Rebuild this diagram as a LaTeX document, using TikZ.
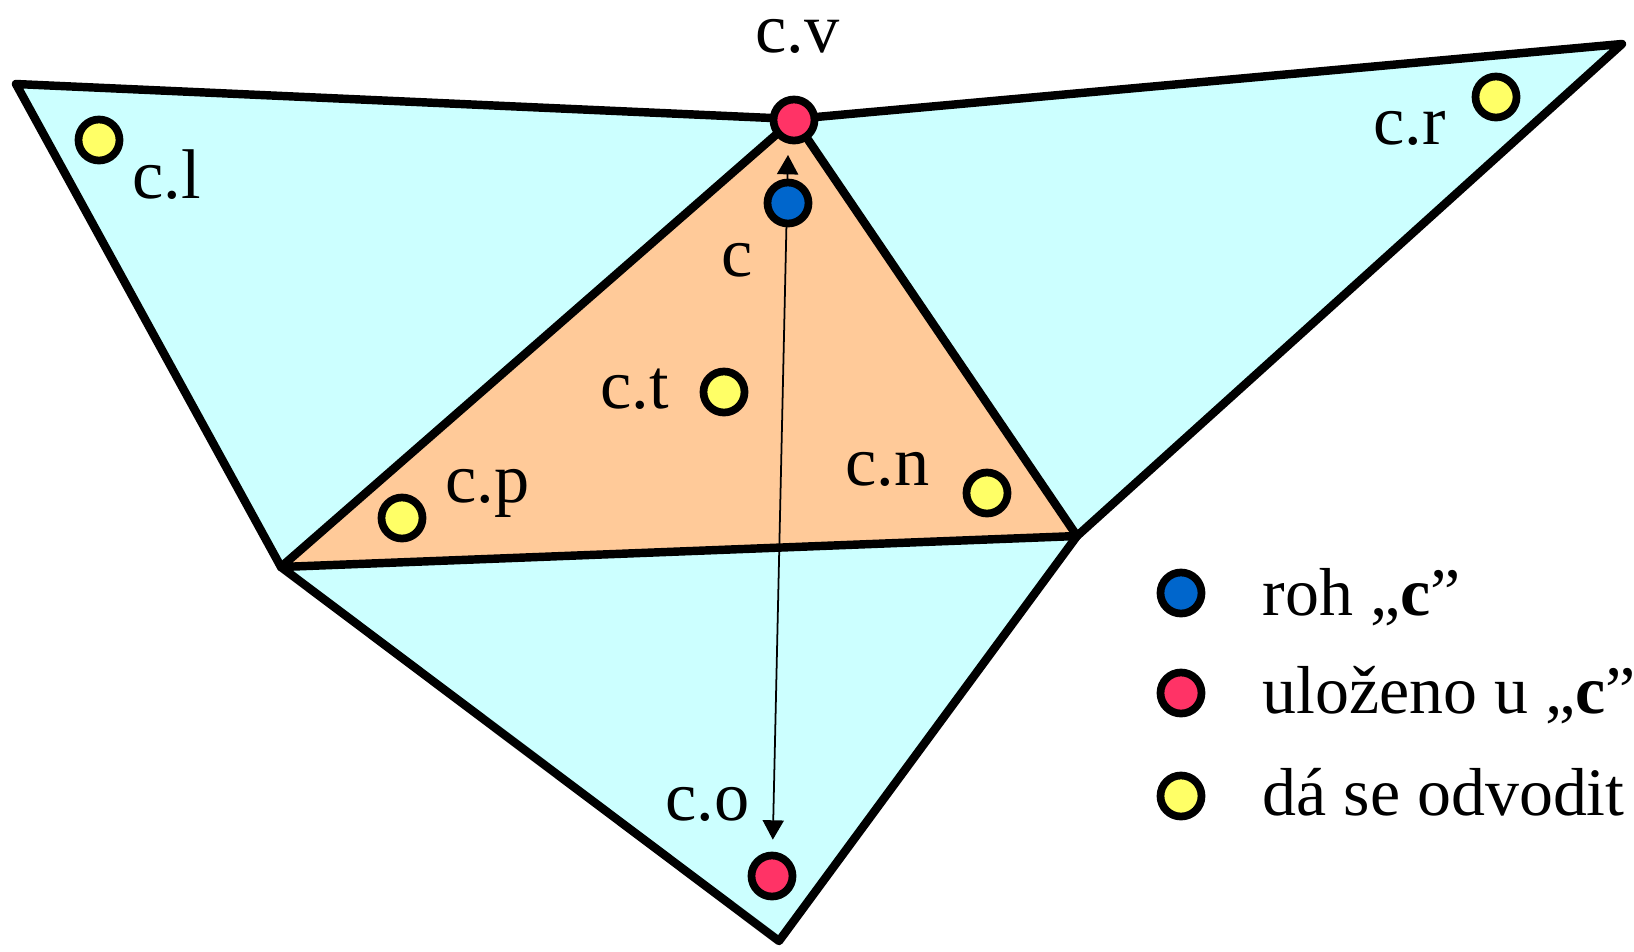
\documentclass[tikz,border=0pt]{standalone}
\usepackage{fontspec}
\setmainfont{Liberation Serif}
\usetikzlibrary{arrows.meta,positioning}
\definecolor{lcyan}{HTML}{CCFFFF}
\definecolor{lorange}{HTML}{FFCA99}
\definecolor{cblue}{HTML}{0066CC}
\definecolor{cred}{HTML}{FF3366}
\definecolor{cyellow}{HTML}{FFFF66}
\tikzset{
    edge/.style={draw=black, line width=2.4pt, line join=round},
    dot/.style={circle, draw=black, line width=2.2pt, minimum size=0.41cm, inner sep=0pt},
    bluedot/.style={dot, fill=cblue},
    reddot/.style={dot, fill=cred},
    yellowdot/.style={dot, fill=cyellow},
    lbl/.style={anchor=base west, inner sep=0pt, font=\fontsize{20}{24}\selectfont},
    key/.style={lbl, font=\fontsize{19.3}{23}\selectfont}
}

\begin{document}
\begin{tikzpicture}[x=0.01cm, y=-0.01cm]
        \useasboundingbox (0,0) rectangle (1634,951);

        % corners of the mesh
        \coordinate (tl) at (16,84);
        \coordinate (v)  at (794,119);
        \coordinate (tr) at (1622,44);
        \coordinate (rm) at (1077,536);
        \coordinate (lm) at (281,567);
        \coordinate (b)  at (779,941);

        \fill[lcyan] (tl) -- (v) -- (lm) -- cycle;
        \fill[lcyan] (v) -- (tr) -- (rm) -- cycle;
        \fill[lcyan] (lm) -- (rm) -- (b) -- cycle;
        \fill[lorange] (v) -- (rm) -- (lm) -- cycle;

        \draw[edge] (tl) -- (v) -- (tr) -- (rm) -- (b) -- (lm) -- cycle;
        \draw[edge] (lm) -- (v) -- (rm) -- cycle;

        % corners
        \node[reddot] (cv) at (794,120) {};
        \node[reddot] (co) at (772,876) {};
        \coordinate (ctip) at (788,155);
        \draw[<->, line width=0.5pt, >={Triangle[width=6pt,length=5.5pt]},
            shorten >=0.12cm] (ctip) to (co);
        \node[bluedot] (c) at (788,203) {};
        \node[yellowdot] (cl) at (99,140) {};
        \node[yellowdot] (cr) at (1496,97) {};
        \node[yellowdot] (ct) at (724,392) {};
        \node[yellowdot] (cp) at (402,518) {};
        \node[yellowdot] (cn) at (987,493) {};

        \node[lbl] (lcv) at (755,52) {c.v};
        \node[lbl] (lcl) at (132,198) {c.l};
        \node[lbl] (lcr) at (1373,144) {c.r};
        \node[lbl] (lc) at (721,276) {c};
        \node[lbl] (lct) at (600,408) {c.t};
        \node[lbl] (lcp) at (445,502) {c.p};
        \node[lbl] (lcn) at (845,485) {c.n};
        \node[lbl] (lco) at (665,820) {c.o};

        % legend
        \node[bluedot] (kblue) at (1181,593) {};
        \node[reddot] (kred) at (1181,693) {};
        \node[yellowdot] (kyellow) at (1181,796) {};
        \node[key] (tblue) at (1262,615) {roh „\textbf{c}”};
        \node[key] (tred) at (1262,713) {uloženo u „\textbf{c}”};
        \node[key] (tyellow) at (1262,815) {dá se odvodit};

    \end{tikzpicture}
\end{document}
